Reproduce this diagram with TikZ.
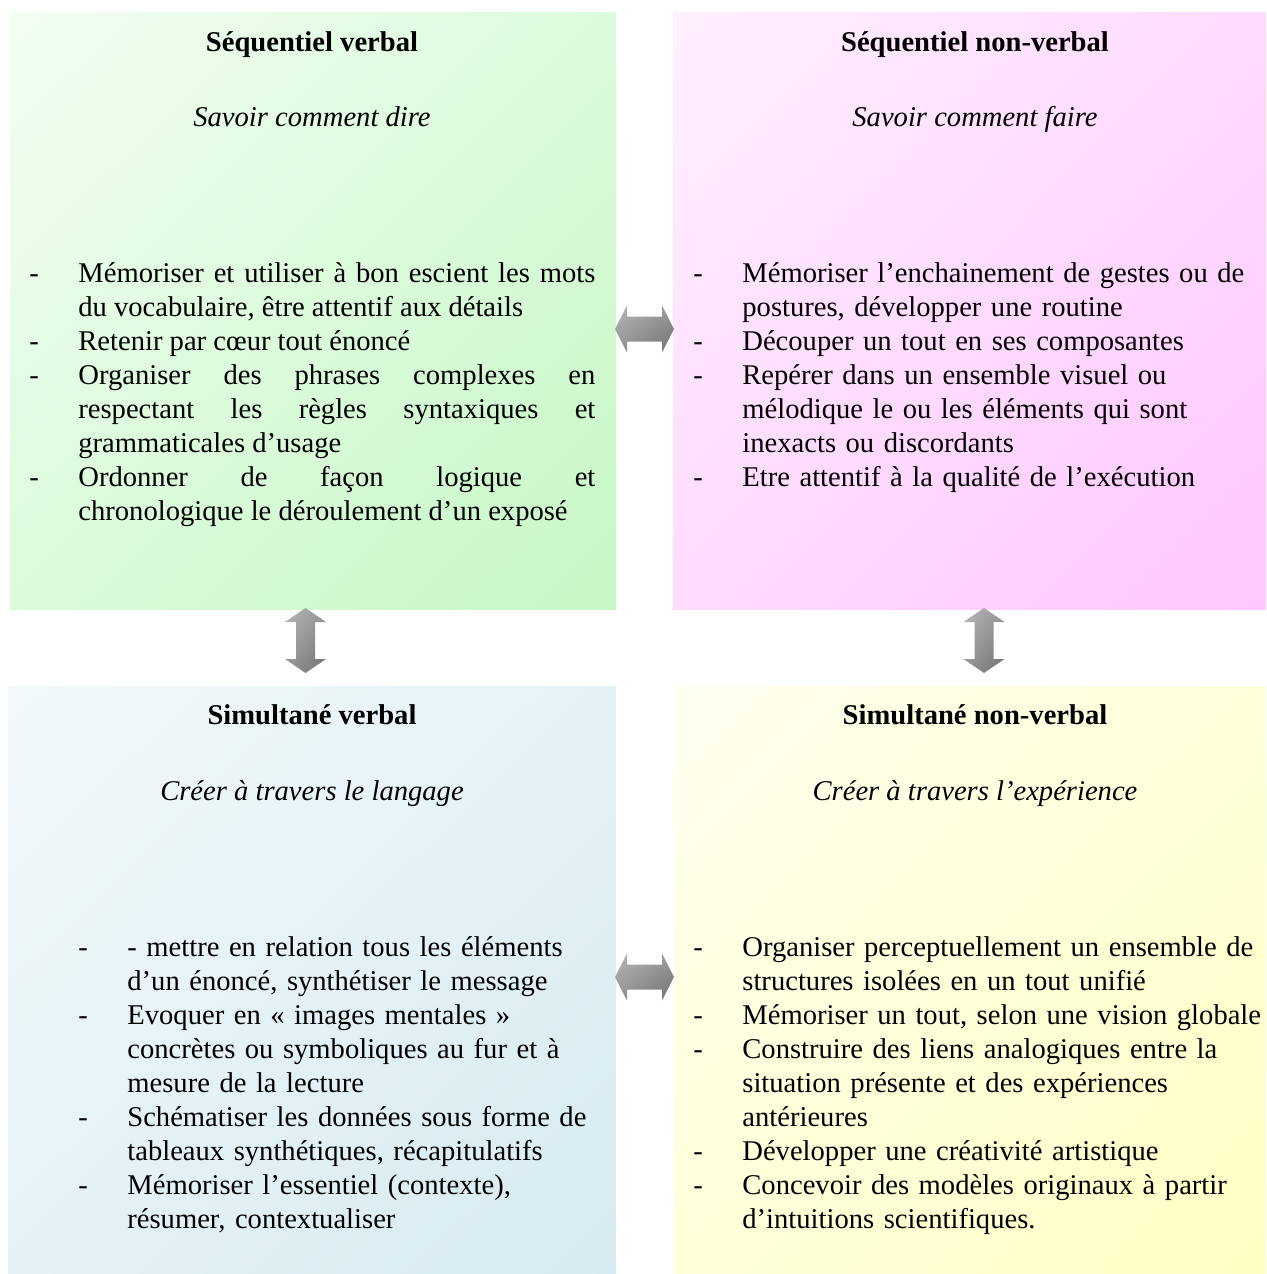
\documentclass[tikz,border=0pt]{standalone}
\usepackage{fontspec}
\setmainfont{Liberation Serif}
\usetikzlibrary{shadings}

\definecolor{vertclair}{HTML}{F2FEF2}
\definecolor{vertfonce}{HTML}{C6F7C6}
\definecolor{roseclair}{HTML}{FFF0FF}
\definecolor{rosefonce}{HTML}{FFC6FF}
\definecolor{bleuclair}{HTML}{F2F9FB}
\definecolor{bleufonce}{HTML}{D6EBF1}
\definecolor{jauneclair}{HTML}{FFFFF0}
\definecolor{jaunefonce}{HTML}{FFFFC4}

\newlength{\retrait}
\setlength{\retrait}{24.5pt}
\newcommand{\tiret}[1]{\noindent\hangindent=\retrait\hangafter=1\makebox[\retrait][l]{-}#1\par}
\hyphenpenalty=10000
\exhyphenpenalty=10000

\tikzset{
	titre/.style={anchor=base, inner sep=0pt, font=\fontsize{14.3}{17}\selectfont\bfseries},
	devise/.style={anchor=base, inner sep=0pt, font=\fontsize{14.3}{17}\selectfont\itshape},
	liste/.style={anchor=base west, inner sep=0pt, text width=#1, font=\fontsize{14.3}{17}\selectfont},
	fleche/.style={upper left=black!28, upper right=black!40, lower left=black!42, lower right=black!56}
}

\begin{document}
\begin{tikzpicture}[x=0.5pt, y=-0.5pt]

	\useasboundingbox (0,0) rectangle (1266,1274);

	% Les quatre cadres
	\shade[upper left=vertclair, lower right=vertfonce, upper right=vertclair!50!vertfonce, lower left=vertclair!50!vertfonce] (10,12) rectangle (616,609);
	\shade[upper left=roseclair, lower right=rosefonce, upper right=roseclair!50!rosefonce, lower left=roseclair!50!rosefonce] (673,12) rectangle (1266,609);
	\shade[upper left=bleuclair, lower right=bleufonce, upper right=bleuclair!50!bleufonce, lower left=bleuclair!50!bleufonce] (8,686) rectangle (616,1273);
	\shade[upper left=jauneclair, lower right=jaunefonce, upper right=jauneclair!50!jaunefonce, lower left=jauneclair!50!jaunefonce] (674,686) rectangle (1266,1273);

	% Fleches horizontales
	\def\lh{23.5}
	\def\ls{12.5}
	\def\lt{12}
	\def\xa{615}
	\def\xb{674}

	\shade[fleche] (\xa,329) -- (\xa+\lt,329-\lh) -- (\xa+\lt,329-\ls) -- (\xb-\lt,329-\ls) -- (\xb-\lt,329-\lh) -- (\xb,329) -- (\xb-\lt,329+\lh) -- (\xb-\lt,329+\ls) -- (\xa+\lt,329+\ls) -- (\xa+\lt,329+\lh) -- cycle;
	\shade[fleche] (\xa,977) -- (\xa+\lt,977-\lh) -- (\xa+\lt,977-\ls) -- (\xb-\lt,977-\ls) -- (\xb-\lt,977-\lh) -- (\xb,977) -- (\xb-\lt,977+\lh) -- (\xb-\lt,977+\ls) -- (\xa+\lt,977+\ls) -- (\xa+\lt,977+\lh) -- cycle;

	% Fleches verticales
	\def\vh{20.5}
	\def\vs{9.5}
	\def\vt{14}
	\def\ya{608}
	\def\yb{673}

	\foreach \cx in {305.5,984}{
		\shade[fleche] (\cx,\ya) -- (\cx+\vh,\ya+\vt) -- (\cx+\vs,\ya+\vt) -- (\cx+\vs,\yb-\vt) -- (\cx+\vh,\yb-\vt) -- (\cx,\yb) -- (\cx-\vh,\yb-\vt) -- (\cx-\vs,\yb-\vt) -- (\cx-\vs,\ya+\vt) -- (\cx-\vh,\ya+\vt) -- cycle;
	}

	% Sequentiel verbal
	\node[titre] (sv) at (312,51) {Séquentiel verbal};
	\node[devise] (svdev) at (312,126) {Savoir comment dire};
	\node[liste=283pt, align=justify] (svliste) at (29,282) {%
		\tiret{Mémoriser et utiliser à bon escient les mots\linebreak du vocabulaire, être attentif aux détails}
		\tiret{Retenir par cœur tout énoncé}
		\tiret{Organiser des phrases complexes en\linebreak respectant les règles syntaxiques et\linebreak grammaticales d’usage}
		\tiret{Ordonner de façon logique et\linebreak chronologique le déroulement d’un exposé}};

	% Sequentiel non-verbal
	\node[titre] (snv) at (975,51) {Séquentiel non-verbal};
	\node[devise] (snvdev) at (975,126) {Savoir comment faire};
	\node[liste=280pt] (snvliste) at (693,282) {\raggedright
		\tiret{Mémoriser l’enchainement de gestes ou de\newline postures, développer une routine}
		\tiret{Découper un tout en ses composantes}
		\tiret{Repérer dans un ensemble visuel ou\newline mélodique le ou les éléments qui sont\newline inexacts ou discordants}
		\tiret{Etre attentif à la qualité de l’exécution}};

	% Simultane verbal
	\node[titre] (smv) at (312,724) {Simultané verbal};
	\node[devise] (smvdev) at (312,800) {Créer à travers le langage};
	\node[liste=262pt] (smvliste) at (78,956) {\raggedright
		\tiret{- mettre en relation tous les éléments\newline d’un énoncé, synthétiser le message}
		\tiret{Evoquer en «~images mentales~»\newline concrètes ou symboliques au fur et à\newline mesure de la lecture}
		\tiret{Schématiser les données sous forme de\newline tableaux synthétiques, récapitulatifs}
		\tiret{Mémoriser l’essentiel (contexte),\newline résumer, contextualiser}};

	% Simultane non-verbal
	\node[titre] (smnv) at (975,724) {Simultané non-verbal};
	\node[devise] (smnvdev) at (975,800) {Créer à travers l’expérience};
	\node[liste=284pt] (smnvliste) at (693,956) {\raggedright
		\tiret{Organiser perceptuellement un ensemble de\newline structures isolées en un tout unifié}
		\tiret{Mémoriser un tout, selon une vision globale}
		\tiret{Construire des liens analogiques entre la\newline situation présente et des expériences\newline antérieures}
		\tiret{Développer une créativité artistique}
		\tiret{Concevoir des modèles originaux à partir\newline d’intuitions scientifiques.}};

\end{tikzpicture}
\end{document}
